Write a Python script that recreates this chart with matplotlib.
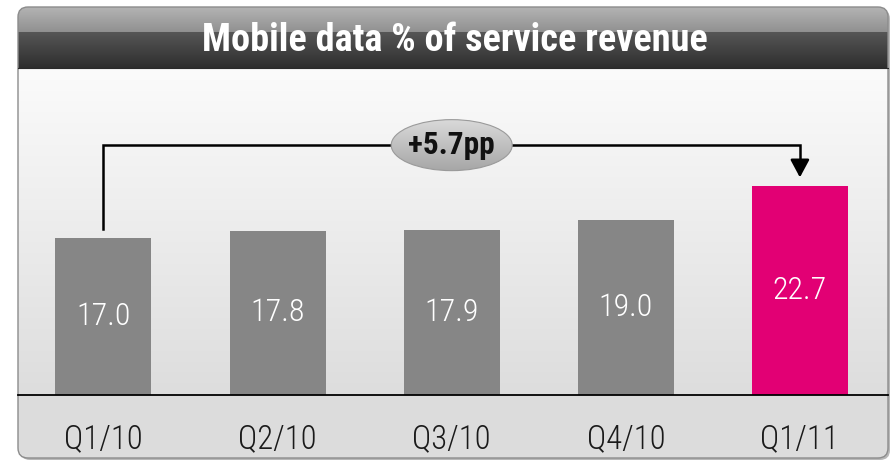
import matplotlib
matplotlib.use("Agg")
import matplotlib.pyplot as plt
import numpy as np
from matplotlib.patches import FancyBboxPatch, Ellipse

categories = ["Q1/10", "Q2/10", "Q3/10", "Q4/10", "Q1/11"]
values = [17.0, 17.8, 17.9, 19.0, 22.7]
bar_colors = ["#868686", "#868686", "#868686", "#868686", "#E20074"]
title = "Mobile data % of service revenue"
change_label = "+5.7pp"

fam = ["Roboto Condensed", "DejaVu Sans"]

W, H = 891, 462
fig = plt.figure(figsize=(W / 100, H / 100), dpi=100)
fig.patch.set_facecolor("white")

# ---- background panel (pixel coordinates) ----
bg = fig.add_axes([0, 0, 1, 1])
bg.set_xlim(0, W)
bg.set_ylim(H, 0)
bg.axis("off")

L, R, T, B = 18, 888, 7, 458
HEAD_B, AX_Y = 68, 395

shadow = FancyBboxPatch((L + 2, T + 2), R - L, B - T,
                        boxstyle="round,pad=0,rounding_size=10",
                        fc="#b8b8b8", ec="none", zorder=0)
bg.add_patch(shadow)
panel = FancyBboxPatch((L, T), R - L, B - T,
                       boxstyle="round,pad=0,rounding_size=10",
                       fc="#dcdcdc", ec="none", zorder=1)
bg.add_patch(panel)

# header gradient
n = 300
hdr = np.zeros((n, 1, 3))
top_part = 32
for i in range(n):
    y = T + (i + 0.5) / n * (HEAD_B - T)
    if y < top_part:
        f = (y - T) / (top_part - T)
        c = 0xb4 * (1 - f) + 0x90 * f
    else:
        f = (y - top_part) / (HEAD_B - top_part)
        c = 0x56 * (1 - f) + 0x2e * f
    hdr[i, 0, :] = c / 255
im = bg.imshow(hdr, extent=(L, R, HEAD_B, T), aspect="auto", zorder=2,
               interpolation="nearest")
im.set_clip_path(panel)

# plot area gradient
g = np.linspace(0xfb, 0xdd, 200) / 255
area = np.repeat(g[:, None, None], 3, axis=2)
im2 = bg.imshow(area, extent=(L, R, AX_Y, HEAD_B), aspect="auto", zorder=2,
                interpolation="bilinear")
im2.set_clip_path(panel)

border = FancyBboxPatch((L, T), R - L, B - T,
                        boxstyle="round,pad=0,rounding_size=10",
                        fc="none", ec="#8c8c8c", lw=1.0, zorder=3)
bg.add_patch(border)
bg.plot([L, R], [HEAD_B, HEAD_B], color="#2a2a2a", lw=0.8, zorder=3)

bg.text((203 + 706) / 2, 51, title, color="white", fontsize=27.5,
        fontweight="bold", family=fam, ha="center", va="baseline", zorder=4)

# ---- data axes ----
cx0, step, ppu = 103.5, 174.1, 9.22
ax = fig.add_axes([L / W, (H - AX_Y) / H, (R - L) / W, (AX_Y - HEAD_B) / H])
ax.patch.set_alpha(0)
x = np.arange(len(categories))
bars = ax.bar(x, values, width=96 / step, color=bar_colors, zorder=2)
ax.bar_label(bars, fmt="%.1f", label_type="center", color="white",
             fontsize=23, family=fam, fontweight="light")

for s in ["top", "right", "left"]:
    ax.spines[s].set_visible(False)
ax.spines["bottom"].set_color("black")
ax.spines["bottom"].set_linewidth(1.3)
ax.set_yticks([])
ax.set_xticks(x, categories)
ax.tick_params(axis="x", length=0, pad=38, labelsize=23.5, labelcolor="#1a1a1a")
for lab in ax.get_xticklabels():
    lab.set_family(fam)
    lab.set_fontweight("light")
    lab.set_va("baseline")

# ---- change arrow ----
y_start = values[0] + 1.0
y_top = max(values) + 4.4
y_tip = values[-1] + 0.9
ax.plot([x[0], x[0], x[-1], x[-1]], [y_start, y_top, y_top, y_tip + 1.2],
        color="black", lw=1.8, solid_joinstyle="miter", zorder=3)
ax.annotate("", xy=(x[-1], y_tip), xytext=(x[-1], y_tip + 1.7),
            arrowprops=dict(arrowstyle="-|>,head_length=1.08,head_width=0.58",
                            mutation_scale=10, color="black", lw=1.8,
                            shrinkA=0, shrinkB=0), zorder=3)

# bubble
bx = (x[0] + x[-1]) / 2
ell = Ellipse((bx, y_top), 121 / step, 51 / ppu, fc="none", ec="#9a9a9a",
              lw=0.8, zorder=5)
ax.add_patch(ell)
grad = np.linspace(0xdc, 0xa4, 100) / 255
gimg = np.repeat(grad[:, None, None], 3, axis=2)
eim = ax.imshow(gimg, extent=(bx - 0.4, bx + 0.4, y_top - 3, y_top + 3),
                aspect="auto", zorder=4, interpolation="bilinear", origin="upper")
eim.set_clip_path(ell)
ax.set_xlim((L - cx0) / step, (R - cx0) / step)
ax.set_ylim(0, (AX_Y - HEAD_B) / ppu)
ax.text(bx, y_top, change_label, ha="center", va="center", fontsize=22.5,
        fontweight="bold", family=fam, color="#111111", zorder=6)

fig.savefig("out.png", dpi=100, facecolor="white")
